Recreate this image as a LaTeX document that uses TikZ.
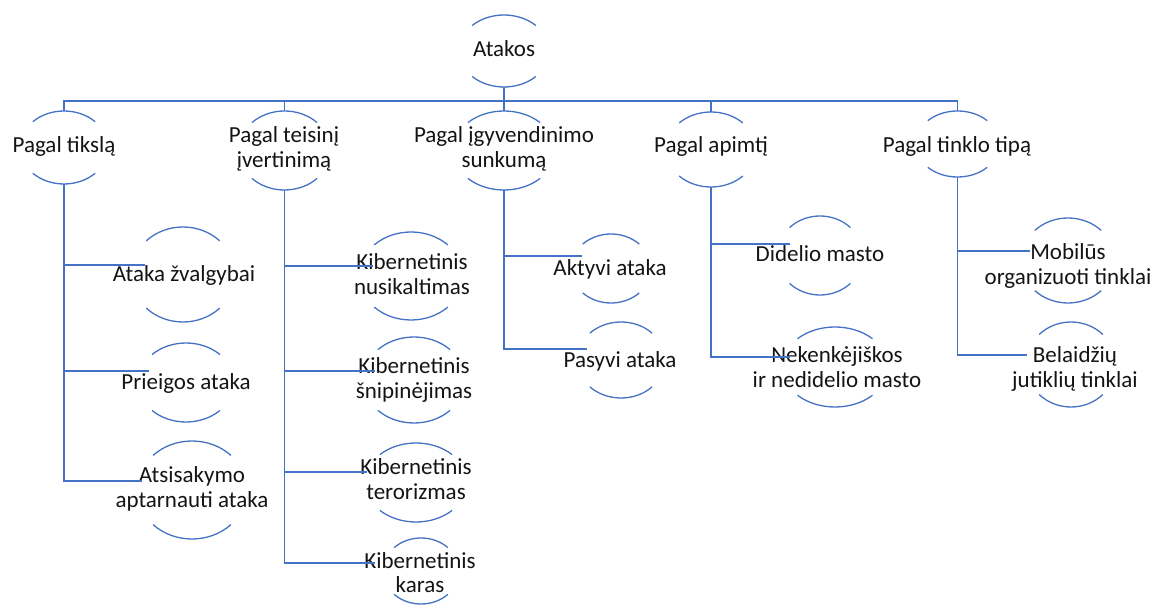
\documentclass[tikz,border=0pt]{standalone}
\usepackage{fontspec}
\setmainfont{Carlito}
\usetikzlibrary{calc}
\definecolor{acc}{HTML}{4472C4}
\tikzset{
  link/.style={draw=acc, line width=0.7pt},
  rim/.style={draw=acc, line width=0.65pt},
  lbl/.style={anchor=base, inner sep=0pt, font=\fontsize{11.5}{12.2}\selectfont, text=black!92},
}
% two centred lines, baseline on the first one
\newcommand{\twolines}[2]{\begin{tabular}[t]{@{}c@{}}#1\\#2\end{tabular}}
% a pair of arcs (above and below) around a label: name, cx, cy, rx, ry
\newcommand{\halfcircle}[5]{%
  \coordinate (#1) at (#2,-#3);
  \coordinate (#1-t) at (#2,{-#3+#5});
  \coordinate (#1-b) at (#2,{-#3-#5});
  \draw[rim] (#1) ++(135:#4 and #5) arc[start angle=135,end angle=45,x radius=#4,y radius=#5];
  \draw[rim] (#1) ++(225:#4 and #5) arc[start angle=225,end angle=315,x radius=#4,y radius=#5];
}
\begin{document}
\begin{tikzpicture}[x=0.5pt,y=0.5pt]
\useasboundingbox (0,0) rectangle (1156,-608);
\begin{scope}
\clip (0,0) rectangle (1156,-608);

% root
\halfcircle{atakos}{504}{51}{45}{36}
\node[lbl] (atakos-l) at (504,-57) {Atakos};

% first level
\halfcircle{tikslas}{64}{147.5}{44}{36.5}
\halfcircle{teisinis}{284.5}{150.5}{46}{39.5}
\halfcircle{igyv}{504}{150.5}{51}{39.5}
\halfcircle{apimtis}{711}{149.5}{45}{37.5}
\halfcircle{tinklas}{957.5}{144}{42}{33}

\node[lbl] (tikslas-l) at (64,-153) {Pagal tikslą};
\node[lbl] (teisinis-l) at (284,-143) {\twolines{Pagal teisinį}{įvertinimą}};
\node[lbl] (igyv-l) at (504,-143) {\twolines{Pagal įgyvendinimo}{sunkumą}};
\node[lbl] (apimtis-l) at (711,-153) {Pagal apimtį};
\node[lbl] (tinklas-l) at (957,-153) {Pagal tinklo tipą};

% second level: Pagal tikslą
\halfcircle{zvalg}{183}{274.5}{52}{47.5}
\halfcircle{prieig}{186}{382.5}{48}{39.5}
\halfcircle{atsis}{192}{490}{55}{49}
\node[lbl] (zvalg-l) at (184,-282) {Ataka žvalgybai};
\node[lbl] (prieig-l) at (186,-390) {Prieigos ataka};
\node[lbl] (atsis-l) at (192,-483) {\twolines{Atsisakymo}{aptarnauti ataka}};

% second level: Pagal teisinį įvertinimą
\halfcircle{nusik}{411}{276}{52}{44}
\halfcircle{snip}{414}{380}{51}{43}
\halfcircle{teror}{416}{482.5}{51}{39.5}
\halfcircle{karas}{421}{571}{38}{33}
\node[lbl] (nusik-l) at (412,-270) {\twolines{Kibernetinis}{nusikaltimas}};
\node[lbl] (snip-l) at (414,-374) {\twolines{Kibernetinis}{šnipinėjimas}};
\node[lbl] (teror-l) at (416,-475) {\twolines{Kibernetinis}{terorizmas}};
\node[lbl] (karas-l) at (420,-568) {\twolines{Kibernetinis}{karas}};

% second level: Pagal įgyvendinimo sunkumą
\halfcircle{aktyv}{611}{268.5}{40}{34.5}
\halfcircle{pasyv}{621}{360}{44}{38}
\node[lbl] (aktyv-l) at (610,-276) {Aktyvi ataka};
\node[lbl] (pasyv-l) at (620,-368) {Pasyvi ataka};

% second level: Pagal apimtį
\halfcircle{didel}{820}{255.5}{43}{39.5}
\halfcircle{nekenk}{835}{367}{53}{40}
\node[lbl] (didel-l) at (820,-262) {Didelio masto};
\node[lbl] (nekenk-l) at (837,-363) {\twolines{Nekenkėjiškos}{ir nedidelio masto}};

% second level: Pagal tinklo tipą
\halfcircle{mobil}{1068}{260.5}{47}{42.5}
\halfcircle{belaid}{1071}{364.5}{45}{42.5}
\node[lbl] (mobil-l) at (1068,-260) {\twolines{Mobilūs}{organizuoti tinklai}};
\node[lbl] (belaid-l) at (1075,-363) {\twolines{Belaidžių}{jutiklių tinklai}};

% connector ends at the left of each child
\coordinate (bar) at (504,-101);
\coordinate (zvalg-in) at (145,-265);
\coordinate (prieig-in) at (149,-371);
\coordinate (atsis-in) at (142,-481);
\coordinate (nusik-in) at (373,-266);
\coordinate (snip-in) at (375,-371);
\coordinate (teror-in) at (367,-472);
\coordinate (karas-in) at (375,-563);
\coordinate (aktyv-in) at (582,-256);
\coordinate (pasyv-in) at (587,-349);
\coordinate (didel-in) at (790,-244);
\coordinate (nekenk-in) at (790,-357);
\coordinate (mobil-in) at (1030,-251);
\coordinate (belaid-in) at (1027,-355);

% root to first level
\draw[link] (atakos-b) -- (bar);
\draw[link] (tikslas-t) -- (tikslas-t |- bar) -- (tinklas-t |- bar) -- (tinklas-t);
\draw[link] (teisinis-t) -- (teisinis-t |- bar);
\draw[link] (igyv-t) -- (igyv-t |- bar);
\draw[link] (apimtis-t) -- (apimtis-t |- bar);

% first level to second level
\draw[link] (tikslas-b) |- (atsis-in);
\draw[link] (tikslas-b |- zvalg-in) -- (zvalg-in);
\draw[link] (tikslas-b |- prieig-in) -- (prieig-in);

\draw[link] (teisinis-b) |- (karas-in);
\draw[link] (teisinis-b |- nusik-in) -- (nusik-in);
\draw[link] (teisinis-b |- snip-in) -- (snip-in);
\draw[link] (teisinis-b |- teror-in) -- (teror-in);

\draw[link] (igyv-b) |- (pasyv-in);
\draw[link] (igyv-b |- aktyv-in) -- (aktyv-in);

\draw[link] (apimtis-b) |- (nekenk-in);
\draw[link] (apimtis-b |- didel-in) -- (didel-in);

\draw[link] (tinklas-b) |- (belaid-in);
\draw[link] (tinklas-b |- mobil-in) -- (mobil-in);
\end{scope}
\end{tikzpicture}
\end{document}
